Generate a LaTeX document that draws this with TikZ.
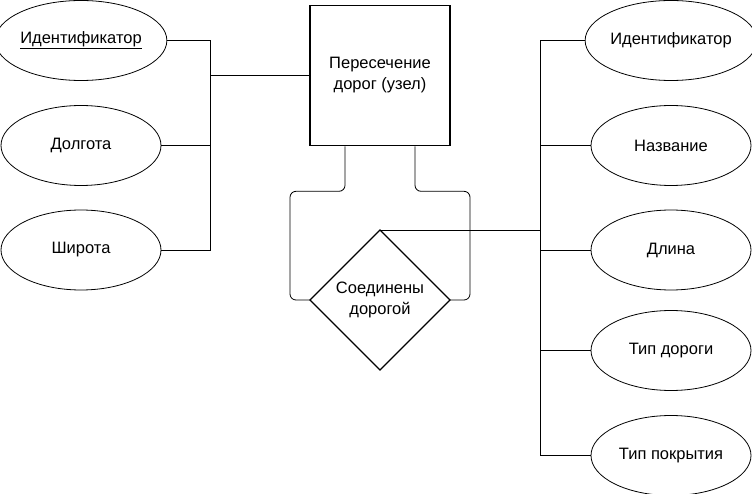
\documentclass[tikz,border=0pt]{standalone}
\usepackage{fontspec}
\setmainfont{Liberation Sans}
\usetikzlibrary{shapes.geometric}
\begin{document}
\begin{tikzpicture}[x=1pt,y=-1pt,
  attr/.style={ellipse,draw,line width=0.8pt,minimum width=160pt,minimum height=80pt,inner sep=0pt,font=\fontsize{16.5}{20}\selectfont},
  ent/.style={rectangle,draw,line width=1.6pt,minimum width=140pt,minimum height=140pt,align=center,font=\fontsize{16.5}{21}\selectfont},
  rel/.style={diamond,draw,line width=1.3pt,minimum width=140pt,minimum height=140pt,inner sep=0pt,outer sep=0pt,aspect=1,align=center,font=\fontsize{16.5}{21}\selectfont},
  conn/.style={draw,line width=0.8pt}]
\useasboundingbox (0,0) rectangle (752,494);
\node[attr] (lid) at (81,40.5) {\underline{Идентификатор}};
\node[attr] (llon) at (81,145.5) {Долгота};
\node[attr] (llat) at (81,250) {Широта};
\node[ent] (box) at (380,75.5) {Пересечение\\дорог (узел)};
\node[rel] (dia) at (380,300) {Соединены\\дорогой};
\node[attr] (rid) at (671,40.5) {Идентификатор};
\node[attr] (rname) at (671,145.5) {Название};
\node[attr] (rlen) at (671,250) {Длина};
\node[attr] (rtype) at (671,350.5) {Тип дороги};
\node[attr] (rsurf) at (671,455.5) {Тип покрытия};
\coordinate (lb) at (210.5,75.5);
\coordinate (rb) at (540.5,230);
% left bus
\draw[conn] (lid.east) -| (lb) |- (llat.east);
\draw[conn] (llon.east) -- (llon.east -| lb);
\draw[conn] (lb) -- (box.west);
% right bus
\draw[conn] (rid.west) -| (rb) |- (rsurf.west);
\draw[conn] (rname.west) -- (rname.west -| rb);
\draw[conn] (rlen.west) -- (rlen.west -| rb);
\draw[conn] (rtype.west) -- (rtype.west -| rb);
\draw[conn] (dia.north) -- (dia.north -| rb);
% loops between entity and relationship
\draw[conn,rounded corners=6pt] ([xshift=-35pt]box.south) -- ++(0,45) -| (290,300) -- (dia.west);
\draw[conn,rounded corners=6pt] ([xshift=35pt]box.south) -- ++(0,45) -| (470,300) -- (dia.east);
\end{tikzpicture}
\end{document}
